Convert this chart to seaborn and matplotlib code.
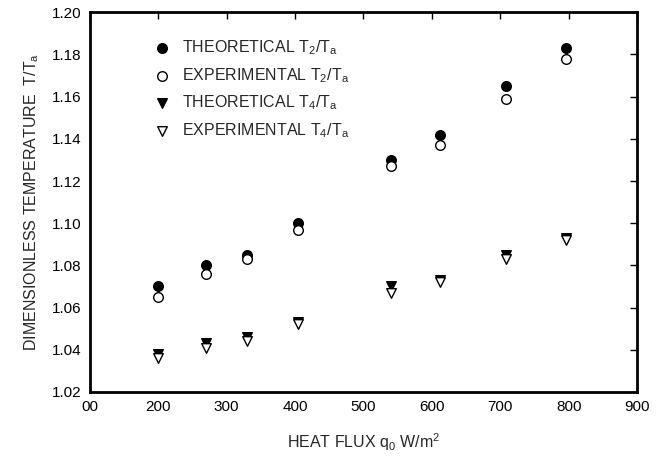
import matplotlib
matplotlib.use("Agg")
import matplotlib.pyplot as plt
import seaborn as sns
import pandas as pd

heat_flux = [200, 270, 330, 405, 540, 612, 708, 796]
theo_t2 = [1.070, 1.080, 1.085, 1.100, 1.130, 1.142, 1.165, 1.183]
exp_t2 = [1.065, 1.076, 1.083, 1.097, 1.127, 1.137, 1.159, 1.178]
theo_t4 = [1.038, 1.043, 1.046, 1.053, 1.070, 1.073, 1.085, 1.093]
exp_t4 = [1.036, 1.041, 1.044, 1.052, 1.067, 1.072, 1.083, 1.092]

x_ticks = [100, 200, 300, 400, 500, 600, 700, 800, 900]
x_tick_labels = ["00", "200", "300", "400", "500", "600", "700", "800", "900"]
y_ticks = [1.02, 1.04, 1.06, 1.08, 1.10, 1.12, 1.14, 1.16, 1.18, 1.20]

series_labels = [
    r"THEORETICAL T$_\mathregular{2}$/T$_\mathregular{a}$",
    r"EXPERIMENTAL T$_\mathregular{2}$/T$_\mathregular{a}$",
    r"THEORETICAL T$_\mathregular{4}$/T$_\mathregular{a}$",
    r"EXPERIMENTAL T$_\mathregular{4}$/T$_\mathregular{a}$",
]

sns.set_style("white")
plt.rcParams["font.family"] = ["Liberation Sans", "DejaVu Sans"]
plt.rcParams["mathtext.fontset"] = "custom"
plt.rcParams["mathtext.rm"] = "Liberation Sans"

fig = plt.figure(figsize=(6.7, 4.7), dpi=100)
ax = fig.add_axes([0.134, 0.166, 0.817, 0.808])

styles = [
    ("o", "black", theo_t2),
    ("o", "white", exp_t2),
    ("v", "black", theo_t4),
    ("v", "white", exp_t4),
]
for (marker, face, vals), lab in zip(styles, series_labels):
    df = pd.DataFrame({"x": heat_flux, "y": vals})
    sns.scatterplot(data=df, x="x", y="y", ax=ax, marker=marker, s=48,
                    color=face, edgecolor="black", linewidth=1.0, label=lab,
                    zorder=3)

ax.set_xlim(100, 900)
ax.set_ylim(1.02, 1.20)
ax.set_xticks(x_ticks)
ax.set_xticklabels(x_tick_labels)
ax.set_yticks(y_ticks)
ax.set_yticklabels([f"{v:.2f}" for v in y_ticks])
ax.tick_params(direction="in", length=5, width=1, top=True, right=True,
               labelsize=11, colors="black", pad=6)
for sp in ax.spines.values():
    sp.set_linewidth(2)
    sp.set_color("black")

ax.set_xlabel(r"HEAT FLUX q$_\mathregular{0}$ W/m$^\mathregular{2}$", fontsize=11.5, labelpad=12)
ax.set_ylabel(r"DIMENSIONLESS TEMPERATURE  T/T$_\mathregular{a}$", fontsize=11.5, labelpad=8)

leg = ax.legend(loc="upper left", bbox_to_anchor=(0.105, 0.948), frameon=False,
                fontsize=11.5, handletextpad=0.8, labelspacing=0.55,
                borderaxespad=0.0, handlelength=1.0)

fig.savefig("out.png", dpi=100)
